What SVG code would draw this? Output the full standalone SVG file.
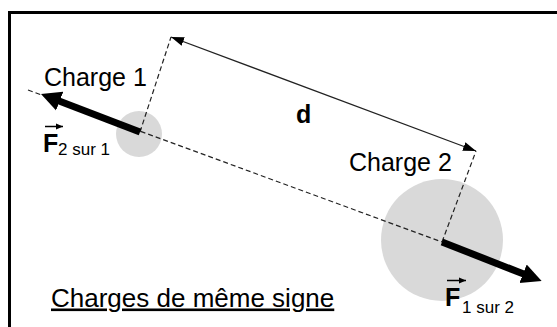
<svg xmlns="http://www.w3.org/2000/svg" width="557" height="327" viewBox="0 0 557 327">
<defs>
<style>
.lbl{font-family:"Liberation Sans",Arial,sans-serif;font-size:25px;fill:#000}
.b{font-weight:bold}
.ttl{font-size:26px}
.sub{font-family:"Liberation Sans",Arial,sans-serif;font-size:17px;fill:#000}
.dash{stroke:#222;stroke-width:1.2;stroke-dasharray:5,3;fill:none}
.charge{fill:#d9d9d9}
.force{stroke:#000;stroke-width:7;fill:none}
.dist{stroke:#222;stroke-width:1.3;fill:none}
.vec{stroke:#000;stroke-width:1.5;fill:none}
</style>
<marker id="bigHead" markerUnits="userSpaceOnUse" markerWidth="22" markerHeight="22" viewBox="0 -11 22 22" refX="2" refY="0" orient="auto">
<path d="M0,-10 L20,0 L0,10 z" fill="#000"/>
</marker>
<marker id="thinHead" markerUnits="userSpaceOnUse" markerWidth="14" markerHeight="10" viewBox="0 -5 14 10" refX="13" refY="0" orient="auto-start-reverse">
<path d="M0,-4.5 L13,0 L0,4.5 z" fill="#000"/>
</marker>
<marker id="vecHead" markerUnits="userSpaceOnUse" markerWidth="8" markerHeight="8" viewBox="0 -4 8 8" refX="7" refY="0" orient="auto">
<path d="M0,-3 L7,0 L0,3 z" fill="#000"/>
</marker>
</defs>
<rect width="557" height="327" fill="#fff"/>
<path d="M9.5,327 L9.5,12.5 L557,12.5" stroke="#000" stroke-width="3" fill="none"/>

<g id="charge1">
<circle class="charge" cx="139" cy="134" r="23"/>
<text class="lbl" x="44" y="85.5">Charge 1</text>
</g>
<g id="charge2">
<circle class="charge" cx="442" cy="240" r="61"/>
<text class="lbl" x="349" y="171">Charge 2</text>
</g>

<g id="connectors">
<line class="dash" x1="28" y1="90" x2="442" y2="242"/>
<line class="dash" x1="140" y1="132" x2="171" y2="37"/>
<line class="dash" x1="442" y1="242" x2="476" y2="151"/>
<line class="dist" x1="171" y1="37" x2="476" y2="151" marker-start="url(#thinHead)" marker-end="url(#thinHead)"/>
<line class="force" x1="140" y1="132" x2="57.8" y2="100.4" marker-end="url(#bigHead)"/>
<line class="force" x1="442" y1="242" x2="524.9" y2="274.5" marker-end="url(#bigHead)"/>
</g>

<g id="label-d">
<text class="lbl b" x="296" y="123">d</text>
</g>
<g id="label-f21">
<line class="vec" x1="45" y1="126.5" x2="63" y2="126.5" marker-end="url(#vecHead)"/>
<text class="lbl b" x="43" y="151.5">F</text>
<text class="sub" x="58" y="154.5">2 sur 1</text>
</g>
<g id="label-f12">
<line class="vec" x1="447" y1="280.5" x2="466" y2="280.5" marker-end="url(#vecHead)"/>
<text class="lbl b" x="445" y="305.5">F</text>
<text class="sub" x="462" y="313">1 sur 2</text>
</g>
<g id="title">
<text class="lbl ttl" x="51" y="306.5" text-decoration="underline">Charges de même signe</text>
</g>
</svg>
